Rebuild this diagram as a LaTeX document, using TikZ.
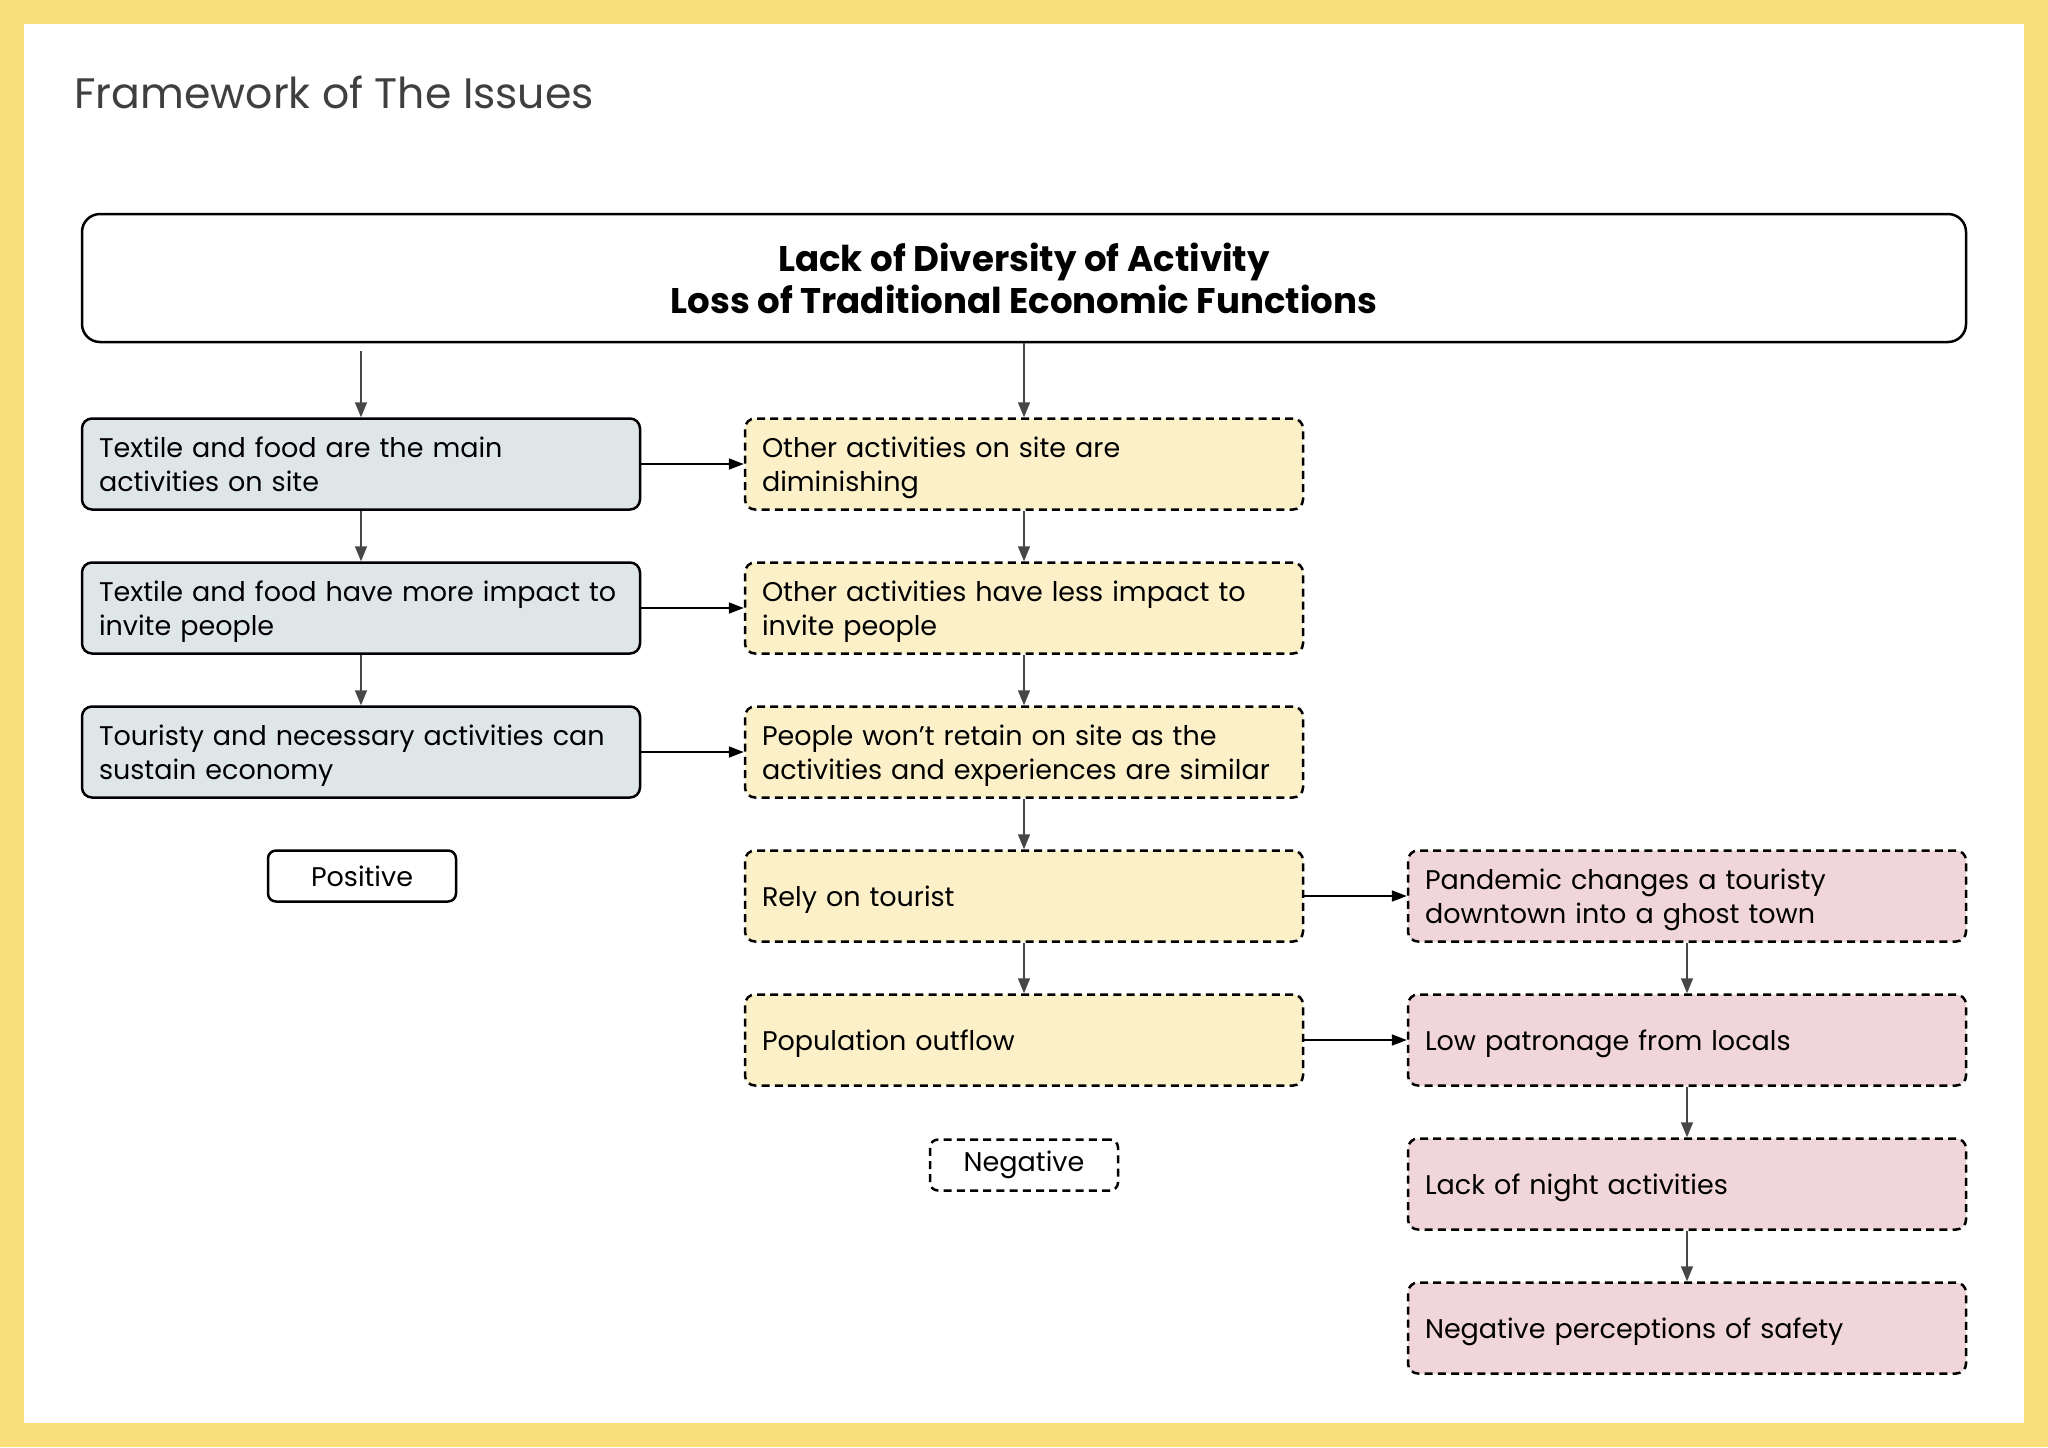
\documentclass[tikz,border=0pt]{standalone}
\usepackage{fontspec}
\setmainfont{Poppins}
\usetikzlibrary{arrows.meta}
\definecolor{framey}{HTML}{F9DE7C}
\definecolor{posfill}{HTML}{DFE6E7}
\definecolor{negfill}{HTML}{FCF0C9}
\definecolor{badfill}{HTML}{F0D5DA}
\definecolor{titlegray}{HTML}{3F3F3F}
\definecolor{arrowgray}{HTML}{474747}
\tikzset{
	box/.style={draw=black, line width=1.25pt, rounded corners=5pt, minimum height=45.5pt, text width=262pt, inner xsep=8.5pt, align=left, font=\fontsize{13.5}{17}\selectfont, execute at begin node=\rule{0pt}{15.9pt}, execute at end node=\strut},
	posbox/.style={box, fill=posfill},
	negbox/.style={box, fill=negfill, dash pattern=on 4pt off 2.6pt},
	badbox/.style={box, fill=badfill, dash pattern=on 4pt off 2.6pt},
	keybox/.style={draw=black, line width=1.25pt, rounded corners=4pt, minimum width=94pt, minimum height=25.5pt, font=\fontsize{13.5}{17}\selectfont},
	vline/.style={draw=arrowgray, line width=0.8pt, -{Triangle[length=7.5pt,width=6pt]}},
	hline/.style={draw=black, line width=0.9pt, -{Triangle[length=7.5pt,width=5.5pt]}},
}

\begin{document}
\begin{tikzpicture}[x=0.5pt, y=-0.5pt]
			%%%%% START %%%%%
			
			\useasboundingbox (0,0) rectangle (2048,1447);
			\fill[framey] (0,0) rectangle (2048,1447);
			\fill[white] (24,24) rectangle (2024,1423);
			
			\node[anchor=base west, inner sep=0, text=titlegray, font=\fontsize{21.3}{26}\selectfont] (title) at (74,108) {Framework of The Issues};
			
			\node[draw=black, line width=1.25pt, rounded corners=9pt, minimum width=942pt, minimum height=64pt, align=center, font=\fontsize{17.8}{21}\selectfont\bfseries] (top) at (1024,278) {Lack of Diversity of Activity\\Loss of Traditional Economic Functions};
			
			% positive column
			\node[posbox] (p1) at (361,464) {Textile and food are the main\\activities on site};
			\node[posbox] (p2) at (361,608) {Textile and food have more impact to\\invite people};
			\node[posbox] (p3) at (361,752) {Touristy and necessary activities can\\sustain economy};
			\node[keybox] (pos) at (362,876) {Positive};
			
			% negative column
			\node[negbox] (n1) at (1024,464) {Other activities on site are\\diminishing};
			\node[negbox] (n2) at (1024,608) {Other activities have less impact to\\invite people};
			\node[negbox] (n3) at (1024,752) {People won’t retain on site as the\\activities and experiences are similar};
			\node[negbox] (n4) at (1024,896) {Rely on tourist};
			\node[negbox] (n5) at (1024,1040) {Population outflow};
			\node[keybox, dash pattern=on 4pt off 2.6pt] (neg) at (1024,1165) {Negative};
			
			% outcomes
			\node[badbox] (r1) at (1687,896) {Pandemic changes a touristy\\downtown into a ghost town};
			\node[badbox] (r2) at (1687,1040) {Low patronage from locals};
			\node[badbox] (r3) at (1687,1184) {Lack of night activities};
			\node[badbox] (r4) at (1687,1328) {Negative perceptions of safety};
			
			\draw[vline] ([yshift=-4pt]top.south -| p1.north) -- (p1.north);
			\draw[vline] (top.south) -- (n1.north);
			\draw[vline] (p1.south) -- (p2.north);
			\draw[vline] (p2.south) -- (p3.north);
			\draw[vline] (n1.south) -- (n2.north);
			\draw[vline] (n2.south) -- (n3.north);
			\draw[vline] (n3.south) -- (n4.north);
			\draw[vline] (n4.south) -- (n5.north);
			\draw[vline] (r1.south) -- (r2.north);
			\draw[vline] (r2.south) -- (r3.north);
			\draw[vline] (r3.south) -- (r4.north);
			
			\draw[hline] (p1.east) -- (n1.west);
			\draw[hline] (p2.east) -- (n2.west);
			\draw[hline] (p3.east) -- (n3.west);
			\draw[hline] (n4.east) -- (r1.west);
			\draw[hline] (n5.east) -- (r2.west);
			
			%%%%% END %%%%%
\end{tikzpicture}
\end{document}
